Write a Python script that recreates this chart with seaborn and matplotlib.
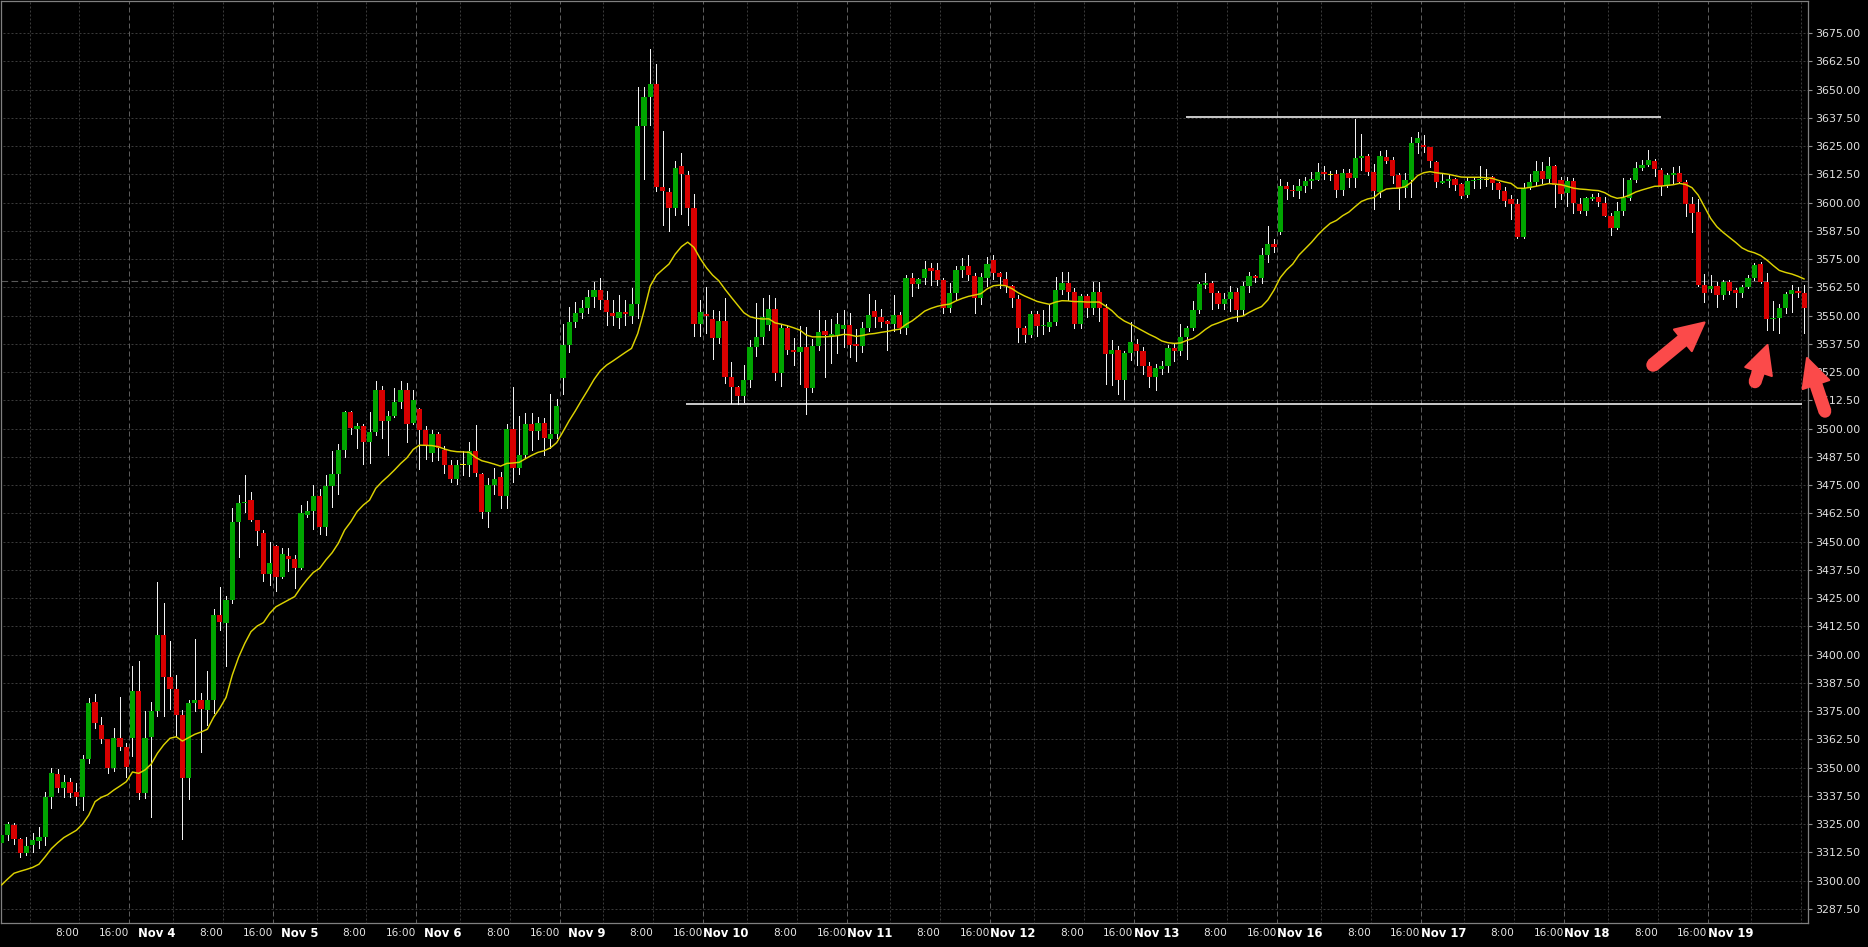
import numpy as np
import pandas as pd
import matplotlib
matplotlib.use("Agg")
import matplotlib.pyplot as plt
from matplotlib.patches import FancyArrow, Circle
import seaborn as sns

# hourly bars (Nov 2 evening .. Nov 19 morning)
opens = [
    3316.5, 3320.2, 3324.6, 3318.5, 3312.1, 3315.8, 3317.6, 3319.5, 3337.0, 3347.2,
    3340.9, 3343.5, 3339.1, 3336.9, 3353.9, 3378.9, 3368.9, 3362.7, 3350.0, 3363.0,
    3359.3, 3363.0, 3383.8, 3338.7, 3363.7, 3375.0, 3408.6, 3390.0, 3385.0, 3373.3,
    3345.5, 3378.5, 3380.0, 3375.5, 3380.0, 3417.5, 3414.0, 3424.0, 3458.6, 3467.0,
    3468.5, 3459.5, 3454.0, 3435.6, 3448.0, 3434.5, 3443.5, 3442.5, 3438.5, 3462.0,
    3463.5, 3470.0, 3456.5, 3474.5, 3480.0, 3490.5, 3507.5, 3500.0, 3501.0, 3494.0,
    3498.5, 3517.0, 3503.5, 3505.5, 3512.0, 3517.0, 3502.5, 3508.5, 3499.5, 3489.0,
    3497.5, 3490.5, 3484.0, 3477.5, 3484.0, 3484.0, 3490.2, 3480.0, 3463.2, 3475.0,
    3478.5, 3470.0, 3499.8, 3482.8, 3488.3, 3502.0, 3499.0, 3502.5, 3495.5, 3497.5,
    3522.6, 3537.0, 3547.3, 3551.3, 3553.5, 3558.3, 3561.3, 3557.0, 3551.0, 3549.0,
    3551.5, 3549.8, 3555.0, 3634.0, 3646.8, 3652.3, 3606.8, 3604.6, 3597.5, 3616.0,
    3612.0, 3597.5, 3546.5, 3550.8, 3548.3, 3540.3, 3547.5, 3522.8, 3518.2, 3514.5,
    3521.3, 3536.0, 3540.5, 3546.0, 3553.0, 3524.5, 3544.5, 3535.0, 3534.0, 3536.0,
    3517.8, 3536.5, 3543.0, 3541.0, 3541.5, 3544.0, 3546.0, 3537.5, 3536.5, 3544.5,
    3552.0, 3549.5, 3547.5, 3546.5, 3550.3, 3544.7, 3566.5, 3564.0, 3566.5, 3570.9,
    3570.2, 3565.7, 3553.5, 3560.0, 3570.2, 3571.8, 3567.5, 3558.0, 3566.5, 3574.6,
    3568.7, 3566.0, 3563.0, 3557.5, 3544.5, 3541.5, 3550.5, 3545.2, 3545.0, 3547.0,
    3561.5, 3564.5, 3560.5, 3546.5, 3558.7, 3553.5, 3560.5, 3553.5, 3533.0, 3534.8,
    3521.5, 3533.5, 3537.5, 3534.5, 3527.5, 3523.0, 3526.5, 3527.5, 3535.5, 3534.5,
    3540.5, 3544.5, 3552.5, 3563.5, 3564.5, 3560.0, 3555.0, 3557.5, 3560.5, 3552.5,
    3563.0, 3567.5, 3566.5, 3577.0, 3581.5, 3587.1, 3607.5, 3605.5, 3605.0, 3607.5,
    3609.5, 3610.0, 3613.5, 3612.2, 3612.5, 3605.5, 3613.0, 3611.0, 3619.8, 3620.4,
    3613.5, 3604.8, 3620.0, 3618.8, 3612.2, 3606.6, 3610.0, 3626.5, 3625.5, 3624.4,
    3618.1, 3608.8, 3609.5, 3610.4, 3608.2, 3603.3, 3609.5, 3610.0, 3610.0, 3611.4,
    3608.5, 3605.1, 3601.4, 3599.4, 3584.9, 3606.3, 3608.9, 3614.0, 3610.4, 3616.2,
    3610.0, 3604.4, 3609.5, 3599.4, 3596.4, 3601.5, 3602.3, 3599.6, 3594.2, 3588.9,
    3596.3, 3601.9, 3610.0, 3615.4, 3616.6, 3618.4, 3614.4, 3607.3, 3612.2, 3613.2,
    3609.2, 3599.4, 3596.0, 3563.5, 3561.8, 3563.1, 3559.1, 3565.0, 3561.3, 3560.1,
    3562.5, 3566.5, 3572.8, 3565.0, 3548.3, 3549.1, 3553.2, 3559.5, 3560.8, 3560.1,
]
highs = [
    3321.7, 3326.1, 3325.4, 3318.8, 3319.2, 3321.3, 3323.9, 3339.4, 3350.0, 3349.3,
    3346.8, 3345.3, 3343.1, 3355.6, 3380.7, 3382.6, 3372.6, 3362.9, 3367.4, 3381.4,
    3361.0, 3395.0, 3397.0, 3375.0, 3379.0, 3432.0, 3423.0, 3406.0, 3391.0, 3375.5,
    3380.0, 3407.0, 3383.0, 3393.0, 3420.0, 3430.0, 3426.0, 3465.0, 3470.5, 3479.7,
    3472.0, 3459.8, 3455.0, 3450.0, 3448.5, 3447.0, 3447.0, 3444.0, 3466.0, 3468.0,
    3475.0, 3473.5, 3479.5, 3490.0, 3493.0, 3508.0, 3508.0, 3502.5, 3502.0, 3507.5,
    3521.0, 3519.0, 3508.0, 3518.0, 3521.0, 3520.0, 3517.0, 3509.0, 3501.0, 3499.5,
    3498.5, 3492.5, 3486.0, 3486.0, 3490.0, 3494.0, 3501.8, 3480.5, 3478.0, 3482.5,
    3481.0, 3502.0, 3518.5, 3505.5, 3507.0, 3507.0, 3505.0, 3504.5, 3515.5, 3513.0,
    3546.5, 3554.0, 3556.0, 3557.0, 3561.3, 3565.0, 3566.5, 3561.0, 3557.0, 3559.0,
    3557.0, 3562.0, 3651.3, 3651.3, 3667.9, 3661.5, 3631.5, 3606.5, 3618.5, 3622.0,
    3614.0, 3604.0, 3557.0, 3562.5, 3552.4, 3552.0, 3558.0, 3529.3, 3519.0, 3528.0,
    3539.0, 3555.5, 3558.0, 3559.0, 3558.0, 3546.5, 3546.0, 3540.0, 3545.5, 3545.0,
    3539.5, 3552.5, 3548.0, 3548.5, 3551.0, 3552.5, 3551.0, 3544.0, 3547.0, 3559.5,
    3557.0, 3553.0, 3548.0, 3559.0, 3551.5, 3568.0, 3569.0, 3566.5, 3574.0, 3573.1,
    3573.4, 3566.5, 3564.5, 3572.0, 3575.5, 3576.8, 3569.0, 3569.0, 3576.0, 3576.8,
    3569.5, 3569.5, 3563.5, 3559.0, 3545.5, 3552.0, 3552.0, 3552.5, 3555.0, 3567.0,
    3569.5, 3569.5, 3562.0, 3559.5, 3559.5, 3565.0, 3565.0, 3555.0, 3539.0, 3536.5,
    3534.5, 3547.0, 3539.5, 3536.0, 3529.5, 3528.5, 3530.0, 3537.0, 3537.5, 3546.5,
    3545.5, 3556.5, 3565.0, 3568.7, 3565.5, 3561.0, 3560.0, 3563.0, 3562.0, 3565.0,
    3569.5, 3568.0, 3580.0, 3589.5, 3584.0, 3610.4, 3609.0, 3608.0, 3610.5, 3611.5,
    3613.5, 3617.6, 3616.0, 3614.0, 3614.5, 3615.0, 3615.0, 3637.0, 3630.4, 3621.5,
    3617.0, 3623.0, 3623.2, 3620.3, 3612.9, 3612.9, 3629.1, 3631.1, 3629.8, 3624.7,
    3618.5, 3613.2, 3612.6, 3610.7, 3608.5, 3611.4, 3611.5, 3616.2, 3614.7, 3611.7,
    3609.2, 3606.7, 3603.3, 3601.4, 3608.5, 3612.6, 3618.5, 3618.1, 3620.0, 3616.6,
    3611.2, 3611.4, 3610.7, 3601.9, 3602.6, 3604.0, 3604.1, 3602.6, 3595.2, 3600.4,
    3610.7, 3611.0, 3618.1, 3618.8, 3623.2, 3619.1, 3615.1, 3612.9, 3615.9, 3616.2,
    3610.0, 3602.3, 3601.8, 3568.4, 3568.0, 3565.0, 3565.7, 3565.7, 3562.0, 3563.5,
    3567.9, 3573.1, 3573.9, 3568.7, 3556.6, 3555.1, 3560.6, 3563.5, 3562.8, 3563.5,
]
lows = [
    3308.4, 3318.0, 3316.2, 3310.6, 3311.4, 3312.9, 3314.3, 3315.8, 3332.0, 3339.4,
    3337.2, 3337.2, 3333.5, 3331.3, 3352.0, 3367.4, 3360.8, 3347.8, 3348.7, 3357.8,
    3346.0, 3355.0, 3336.0, 3336.5, 3328.3, 3373.0, 3373.0, 3376.0, 3364.0, 3318.6,
    3336.0, 3375.0, 3357.0, 3369.0, 3374.0, 3411.0, 3395.0, 3423.0, 3443.0, 3463.0,
    3459.0, 3448.5, 3432.8, 3431.0, 3428.0, 3434.0, 3437.0, 3429.5, 3438.0, 3461.0,
    3455.5, 3453.5, 3453.0, 3465.5, 3471.0, 3487.5, 3497.5, 3491.5, 3484.5, 3485.0,
    3497.0, 3496.0, 3488.5, 3505.0, 3509.0, 3494.0, 3502.0, 3482.0, 3486.5, 3485.5,
    3486.0, 3480.5, 3476.5, 3475.5, 3479.5, 3479.0, 3479.0, 3460.3, 3456.5, 3471.0,
    3465.0, 3464.8, 3476.5, 3480.0, 3487.0, 3490.5, 3495.5, 3488.5, 3491.6, 3496.0,
    3515.5, 3534.0, 3545.0, 3549.0, 3551.0, 3554.0, 3553.0, 3545.8, 3546.0, 3544.5,
    3546.0, 3546.6, 3549.0, 3610.6, 3634.3, 3605.0, 3590.0, 3587.3, 3594.5, 3595.0,
    3590.0, 3541.0, 3541.0, 3542.5, 3531.0, 3538.0, 3520.0, 3511.5, 3510.8, 3511.8,
    3518.5, 3532.0, 3537.5, 3543.6, 3521.5, 3519.0, 3533.0, 3528.0, 3519.8, 3506.5,
    3516.0, 3535.0, 3523.0, 3529.0, 3533.5, 3536.0, 3531.5, 3530.0, 3534.0, 3543.0,
    3545.0, 3545.0, 3535.0, 3543.0, 3542.5, 3542.0, 3558.5, 3562.0, 3564.0, 3563.5,
    3563.5, 3551.0, 3551.5, 3557.0, 3567.0, 3565.7, 3551.0, 3555.0, 3563.0, 3566.0,
    3562.0, 3560.6, 3554.0, 3538.5, 3538.2, 3540.5, 3541.0, 3542.0, 3543.0, 3546.0,
    3559.5, 3557.0, 3544.5, 3544.5, 3549.5, 3550.5, 3547.8, 3519.7, 3519.3, 3515.5,
    3513.0, 3530.5, 3528.0, 3524.0, 3518.5, 3517.0, 3524.0, 3525.0, 3530.0, 3532.5,
    3531.0, 3543.5, 3551.0, 3562.0, 3553.0, 3553.2, 3553.0, 3552.0, 3547.5, 3550.5,
    3560.5, 3565.0, 3564.5, 3573.5, 3578.0, 3586.0, 3601.5, 3603.0, 3602.0, 3604.5,
    3606.5, 3610.0, 3610.5, 3610.0, 3602.5, 3603.5, 3607.0, 3607.0, 3614.5, 3612.0,
    3597.0, 3602.6, 3617.3, 3608.8, 3597.0, 3602.6, 3602.6, 3622.0, 3622.5, 3615.9,
    3606.7, 3608.5, 3607.0, 3605.6, 3602.1, 3602.5, 3606.3, 3606.3, 3607.3, 3605.9,
    3601.9, 3598.5, 3592.6, 3584.2, 3584.5, 3605.8, 3607.8, 3608.5, 3608.5, 3597.9,
    3601.4, 3598.5, 3595.5, 3595.5, 3594.5, 3601.1, 3598.5, 3594.0, 3585.6, 3588.5,
    3594.5, 3601.0, 3609.2, 3614.4, 3616.2, 3611.7, 3603.3, 3606.7, 3608.5, 3608.8,
    3594.1, 3587.1, 3563.0, 3556.2, 3560.4, 3553.6, 3557.2, 3559.5, 3553.9, 3558.4,
    3562.0, 3565.7, 3564.6, 3543.6, 3543.6, 3542.1, 3551.0, 3551.7, 3558.4, 3542.1,
]
closes = [
    3320.2, 3324.9, 3318.5, 3312.1, 3315.5, 3318.0, 3319.5, 3337.2, 3347.5, 3340.9,
    3343.5, 3339.0, 3336.9, 3353.9, 3378.8, 3369.6, 3362.7, 3350.0, 3363.0, 3359.3,
    3350.2, 3383.8, 3338.7, 3363.0, 3375.0, 3408.6, 3390.0, 3385.0, 3373.3, 3345.5,
    3378.6, 3380.0, 3376.0, 3380.0, 3417.5, 3414.5, 3424.0, 3458.6, 3466.9, 3467.5,
    3459.5, 3454.5, 3435.6, 3440.5, 3434.5, 3444.5, 3442.5, 3438.5, 3462.5, 3463.5,
    3470.0, 3456.5, 3474.5, 3480.0, 3490.5, 3507.5, 3500.5, 3501.0, 3494.0, 3498.5,
    3517.0, 3503.5, 3505.5, 3512.0, 3517.0, 3502.0, 3512.5, 3499.5, 3492.5, 3497.5,
    3491.5, 3484.0, 3477.5, 3484.0, 3484.0, 3490.3, 3480.5, 3463.2, 3475.1, 3477.5,
    3470.0, 3499.8, 3482.8, 3488.3, 3502.0, 3499.0, 3502.5, 3496.0, 3497.5, 3510.0,
    3537.0, 3547.3, 3551.3, 3553.5, 3558.3, 3561.3, 3557.0, 3551.5, 3550.0, 3551.5,
    3550.5, 3555.0, 3634.0, 3646.8, 3652.3, 3606.8, 3605.2, 3597.5, 3615.5, 3612.5,
    3597.5, 3546.5, 3551.5, 3549.8, 3540.3, 3547.5, 3522.8, 3518.2, 3514.5, 3521.3,
    3536.0, 3540.5, 3549.5, 3553.0, 3524.5, 3544.5, 3535.0, 3534.0, 3536.0, 3517.8,
    3536.5, 3542.6, 3541.5, 3542.0, 3546.5, 3546.0, 3537.0, 3536.5, 3544.5, 3550.3,
    3549.5, 3547.0, 3546.5, 3550.3, 3544.7, 3566.5, 3564.0, 3566.4, 3570.6, 3569.8,
    3565.7, 3553.5, 3560.0, 3570.2, 3571.8, 3567.8, 3558.0, 3567.3, 3573.0, 3568.7,
    3567.0, 3563.0, 3557.6, 3544.5, 3541.5, 3550.5, 3545.5, 3546.0, 3547.0, 3561.5,
    3564.5, 3560.5, 3546.5, 3558.7, 3553.5, 3560.5, 3553.5, 3533.0, 3534.8, 3521.5,
    3533.5, 3538.5, 3534.5, 3527.5, 3523.0, 3527.0, 3527.5, 3535.5, 3534.5, 3540.5,
    3544.5, 3552.5, 3564.0, 3564.5, 3560.0, 3555.0, 3557.5, 3560.5, 3552.5, 3563.0,
    3567.5, 3566.5, 3577.0, 3581.5, 3580.5, 3607.5, 3606.0, 3605.0, 3607.5, 3609.5,
    3610.3, 3613.5, 3612.5, 3612.2, 3605.5, 3613.0, 3611.0, 3619.6, 3620.4, 3613.5,
    3605.3, 3620.6, 3618.5, 3611.9, 3606.6, 3610.0, 3626.5, 3628.7, 3624.5, 3618.5,
    3609.2, 3609.5, 3610.3, 3608.0, 3603.0, 3609.5, 3610.2, 3610.6, 3610.0, 3608.5,
    3605.6, 3600.8, 3599.4, 3584.9, 3606.3, 3608.9, 3614.1, 3610.4, 3616.2, 3607.8,
    3603.8, 3609.5, 3599.6, 3596.4, 3601.9, 3602.3, 3600.4, 3594.2, 3588.9, 3596.3,
    3601.9, 3610.0, 3615.1, 3616.6, 3618.8, 3614.8, 3607.3, 3612.2, 3613.2, 3609.2,
    3599.4, 3595.5, 3563.5, 3560.1, 3563.1, 3559.1, 3565.0, 3561.0, 3560.1, 3562.5,
    3566.5, 3572.4, 3565.0, 3548.5, 3549.1, 3553.2, 3559.5, 3561.3, 3560.1, 3553.2,
]
# moving average line as drawn on the chart
ma = [
    3298.1, 3300.8, 3303.3, 3304.2, 3305.0, 3305.9, 3307.3, 3310.6, 3314.2, 3316.8,
    3319.1, 3320.7, 3322.3, 3325.1, 3329.1, 3335.0, 3336.9, 3338.0, 3340.1, 3341.9,
    3343.8, 3348.1, 3347.5, 3349.0, 3351.6, 3356.4, 3360.1, 3363.0, 3363.7, 3361.8,
    3363.3, 3364.8, 3365.8, 3367.0, 3372.3, 3376.3, 3381.1, 3391.0, 3398.8, 3405.0,
    3410.2, 3412.7, 3414.2, 3418.3, 3421.2, 3422.7, 3424.2, 3425.7, 3429.8, 3433.3,
    3436.4, 3438.2, 3441.9, 3445.1, 3449.3, 3455.1, 3458.8, 3463.3, 3466.2, 3468.4,
    3473.6, 3476.5, 3479.0, 3481.7, 3484.6, 3487.1, 3490.8, 3492.7, 3492.6, 3492.5,
    3492.0, 3491.0, 3490.2, 3489.8, 3489.7, 3489.5, 3487.3, 3485.8, 3485.1, 3484.3,
    3483.4, 3484.6, 3484.8, 3485.1, 3486.7, 3488.2, 3489.5, 3490.2, 3491.5, 3493.8,
    3498.6, 3503.5, 3507.9, 3512.6, 3517.1, 3521.8, 3525.6, 3528.1, 3529.9, 3531.8,
    3533.7, 3535.5, 3542.1, 3552.0, 3563.1, 3567.9, 3570.4, 3572.8, 3577.2, 3580.5,
    3582.5, 3580.2, 3575.3, 3571.2, 3567.9, 3565.4, 3561.6, 3558.1, 3554.7, 3551.3,
    3549.5, 3548.8, 3548.5, 3548.6, 3546.8, 3546.2, 3545.5, 3544.6, 3543.6, 3541.4,
    3540.6, 3540.6, 3540.6, 3540.8, 3541.1, 3541.7, 3541.5, 3540.8, 3541.2, 3541.8,
    3542.1, 3542.6, 3543.0, 3543.6, 3544.0, 3546.1, 3547.7, 3549.8, 3552.0, 3553.2,
    3554.1, 3554.7, 3555.1, 3556.5, 3557.6, 3558.5, 3559.1, 3559.7, 3561.8, 3563.2,
    3563.5, 3563.2, 3561.9, 3560.1, 3558.7, 3557.5, 3556.3, 3555.6, 3555.0, 3556.0,
    3556.6, 3556.5, 3556.2, 3556.2, 3556.0, 3556.0, 3556.0, 3554.2, 3552.2, 3549.5,
    3547.6, 3546.3, 3544.7, 3543.2, 3541.7, 3540.4, 3538.8, 3538.0, 3537.7, 3537.9,
    3539.0, 3539.9, 3541.7, 3543.9, 3545.7, 3546.7, 3547.8, 3548.8, 3549.4, 3549.8,
    3551.4, 3552.8, 3554.0, 3556.9, 3561.3, 3566.8, 3570.2, 3572.8, 3576.8, 3579.6,
    3582.4, 3585.6, 3588.4, 3590.8, 3592.1, 3594.2, 3595.8, 3598.2, 3600.5, 3601.6,
    3602.2, 3604.5, 3606.0, 3606.3, 3606.4, 3607.0, 3609.0, 3611.9, 3613.2, 3613.7,
    3613.2, 3612.9, 3612.5, 3611.9, 3611.3, 3611.2, 3611.2, 3611.2, 3611.0, 3610.7,
    3609.8, 3609.1, 3608.5, 3606.4, 3606.3, 3606.7, 3607.2, 3607.8, 3608.4, 3608.2,
    3607.9, 3607.2, 3606.4, 3606.0, 3605.8, 3605.5, 3605.3, 3604.4, 3602.8, 3601.9,
    3602.3, 3603.3, 3604.7, 3605.6, 3606.4, 3607.2, 3607.3, 3607.6, 3607.9, 3608.5,
    3608.0, 3606.6, 3603.3, 3598.2, 3593.0, 3589.3, 3586.8, 3584.6, 3582.4, 3580.0,
    3578.6, 3577.8, 3576.6, 3574.6, 3572.2, 3570.0, 3569.1, 3568.4, 3567.4, 3566.2,
]

# sessions: partial first one, then 23 hourly bars each (17:00 .. 15:00)
session_dates = ["Nov 4", "Nov 5", "Nov 6", "Nov 9", "Nov 10", "Nov 11",
                 "Nov 12", "Nov 13", "Nov 16", "Nov 17", "Nov 18", "Nov 19"]
FIRST_SESSION_BARS = 21
SESSION_BARS = 23

# drawn levels: price, first bar, last bar
level_prices = [3510.8, 3637.7]
level_from = [109.7, 189.9]
level_to = [288.6, 266.1]
last_price = 3565.2

price_ticks = np.arange(3287.5, 3675.1, 12.5)

GREEN = "#00a400"
RED = "#d80000"
DOJI = "#e8e000"
MA_COLOR = "#dcd200"
ARROW = "#fb4a4a"

W, H = 1868, 947

sns.set_style("dark", {"axes.facecolor": "black", "figure.facecolor": "black",
                       "axes.edgecolor": "#808080", "axes.grid": False,
                       "patch.force_edgecolor": False})
plt.rcParams["font.family"] = ["DejaVu Sans"]

df = pd.DataFrame({"open": opens, "high": highs, "low": lows,
                   "close": closes, "ma": ma})
df["bar"] = np.arange(len(df))

fig = plt.figure(figsize=(W / 100, H / 100), dpi=100)
fig.patch.set_facecolor("black")
ax = fig.add_axes([0.5 / W, 24 / H, 1807.5 / W, 922.5 / H])
ax.set_facecolor("black")
ax.set_xlim(-0.16, 289.6)
ax.set_ylim(3281.3, 3689.4)

# grid
grid_kw = dict(colors="#3a3a3a", linewidths=0.72, linestyles=(0, (2, 2)), zorder=0)
ax.hlines(price_ticks, -1, len(df) + 1, **grid_kw)

day_pos, day_lab, time_pos, time_lab, sep_pos = [], [], [], [], []
time_pos += [12.5]
time_lab += ["8:00"]
day_grid = [4.5]
for k, d in enumerate(session_dates):
    s = FIRST_SESSION_BARS + k * SESSION_BARS
    sep_pos.append(s - 0.5)
    day_pos.append(s + 6.5)
    day_lab.append(d)
    if s + 14.5 < len(df):
        time_pos.append(s + 14.5)
        time_lab.append("8:00" if s + 14.5 < len(df) - 2 else "")

ax.vlines(day_grid + day_pos + time_pos, 3200, 3700, **grid_kw)
ax.vlines(sep_pos, 3200, 3700, colors="#5c5c5c", linewidths=0.72,
          linestyles=(0, (5, 3)), zorder=0)
ax.axhline(last_price, color="#595959", lw=0.8, ls=(0, (6, 3)), zorder=0)

# candles: thin white wicks, coloured bodies on top
body_lo = df[["open", "close"]].min(axis=1)
body_h = (df["close"] - df["open"]).abs()
colors = np.where(df["close"] > df["open"], GREEN,
                  np.where(df["close"] < df["open"], RED, DOJI))
ax.vlines(df["bar"], df["low"], df["high"], colors="#f2f2f2", linewidths=0.55,
          antialiased=False, capstyle="butt", zorder=2)
ax.bar(df["bar"], np.maximum(body_h, 0.55), bottom=body_lo, width=0.84,
       color=colors, edgecolor="none", linewidth=0, antialiased=False,
       zorder=3)

# moving average
sns.lineplot(data=df, x="bar", y="ma", ax=ax, color=MA_COLOR, lw=1.05,
             estimator=None, zorder=4)

# support / resistance
ax.hlines(level_prices, level_from, level_to, colors="white", linewidths=1.1,
          zorder=4)

# axes cosmetics
for sp in ax.spines.values():
    sp.set_color("#808080")
    sp.set_linewidth(0.9)
ax.set_xlabel("")
ax.set_ylabel("")
ax.yaxis.tick_right()
ax.set_yticks(price_ticks)
ax.set_yticklabels([f"{v:.2f}" for v in price_ticks])
ax.tick_params(axis="y", direction="out", length=3, width=0.8, color="#909090",
               labelcolor="#e2e2e2", labelsize=7.9, pad=2.5, right=True, left=False)
ax.set_xticks([])

xt = ax.get_xaxis_transform()
for x, lab in zip(time_pos + sep_pos, time_lab + ["16:00"] * len(sep_pos)):
    if lab:
        ax.text(x, -0.0113, lab, transform=xt, ha="right", va="center",
                color="#e6e6e6", fontsize=7.6, clip_on=False)
for x, lab in zip(day_pos, day_lab):
    ax.text(x + 0.3, -0.0113, lab, transform=xt, ha="right", va="center",
            color="white", fontsize=8.4, fontweight="bold", clip_on=False)

# red arrows (pixel overlay)
ov = fig.add_axes([0, 0, 1, 1], zorder=5)
ov.set_xlim(0, W)
ov.set_ylim(H, 0)
ov.axis("off")
ov.patch.set_alpha(0)
arrows = [((1653, 365), (1704.5, 322.5), 12),
          ((1755, 382), (1767.5, 345), 11),
          ((1825, 411.5), (1807, 358), 11)]
for (tx, ty), (hx, hy), w in arrows:
    ov.add_patch(FancyArrow(tx, ty, hx - tx, hy - ty, width=w, head_width=28,
                            head_length=28, length_includes_head=True,
                            color=ARROW, lw=1.5, joinstyle="round"))
    ov.add_patch(Circle((tx, ty), w / 2 + 0.7, color=ARROW, lw=0))

fig.savefig("out.png", dpi=100, facecolor="black")
